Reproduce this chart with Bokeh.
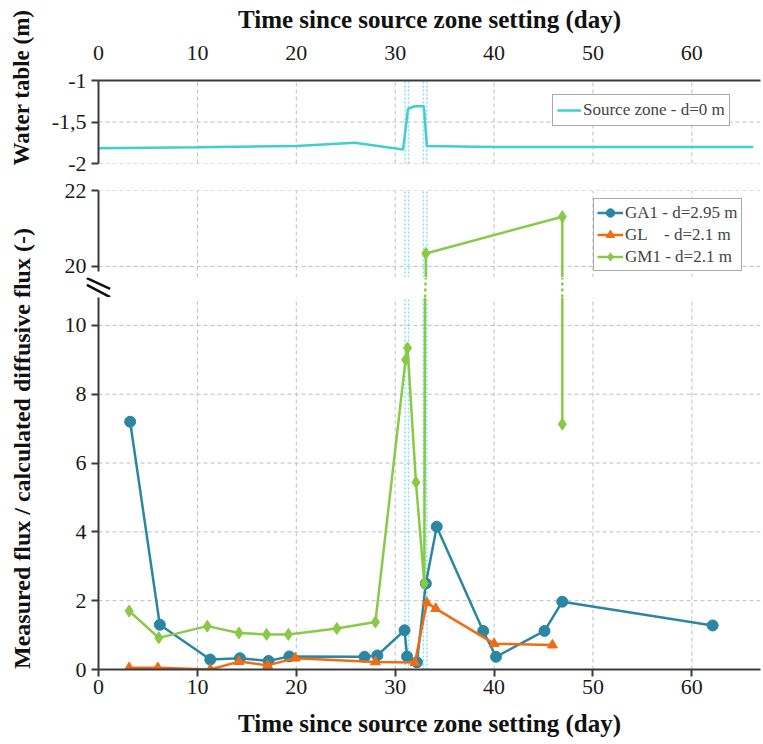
import math
from bokeh.plotting import figure
from bokeh.layouts import column, row
from bokeh.models import Range1d, FixedTicker, Label
from bokeh.embed import file_html
from bokeh.resources import INLINE

# ---------------- data ----------------
x_ticks = [0, 10, 20, 30, 40, 50, 60]
wt_ticks = [-2, -1.5, -1]
wt_tick_labels = ["-2", "-1,5", "-1"]
flux_hi_ticks = [20, 22]
flux_lo_ticks = [0, 2, 4, 6, 8, 10]

wt_day = [0, 10, 20, 25.9, 30.8, 31.3, 32.0, 32.9, 33.2, 40, 66.2]
wt_val = [-1.815, -1.805, -1.79, -1.75, -1.83, -1.34, -1.31, -1.31, -1.79, -1.80, -1.80]

ga1_day = [3.2, 6.2, 11.3, 14.3, 17.2, 19.3, 26.9, 28.2, 30.95, 31.2, 32.2, 33.1, 34.2, 38.9, 40.2, 45.1, 46.9, 62.1]
ga1_val = [7.2, 1.3, 0.29, 0.33, 0.25, 0.38, 0.37, 0.41, 1.14, 0.38, 0.21, 2.5, 4.15, 1.12, 0.37, 1.12, 1.97, 1.28]

gl_day = [3.1, 6.0, 11.3, 14.2, 17.1, 19.9, 28.0, 32.0, 33.2, 34.1, 40.0, 45.9]
gl_val = [0.05, 0.05, 0.0, 0.23, 0.12, 0.33, 0.22, 0.2, 1.94, 1.77, 0.75, 0.71]

gm1_day = [3.1, 6.1, 11.0, 14.2, 17.0, 19.2, 24.1, 28.0, 31.05, 31.25, 32.1, 32.95, 33.1, 46.9, 46.9]
gm1_val = [1.7, 0.92, 1.26, 1.06, 1.02, 1.02, 1.19, 1.38, 9.0, 9.34, 5.44, 2.5, 20.34, 21.31, 7.13]

event_days = [31.0, 31.35, 32.85, 33.2]

x_title = "Time since source zone setting (day)"
wt_title = "Water table (m)"
flux_title = "Measured flux / calculated diffusive  flux (-)"
wt_name = "Source zone - d=0 m"
series_names = ["GA1 - d=2.95 m", "GL    - d=2.1 m", "GM1 - d=2.1 m"]

# ---------------- layout / style constants ----------------
FONT = "Liberation Serif"
C_WT = "#3fcfcf"
C_GA1 = "#2b87a1"
C_GL = "#ef6c14"
C_GM1 = "#88c946"
C_EVT = "#86dcf2"
GRID = "#bdbdbd"
AXC = "#3a3a3a"
X1 = 66.94
PX_PER_DAY = 9.89
SIDE_W = 38
MAIN_W = 763 - SIDE_W
LEFT = 60                      # frame starts at page x = 98
TICK_FS = "22px"
HI_LO, HI_AX = 19.707, 19.87   # bottom of upper flux panel / end of its axis line
LO_TOP = 10.81                 # top of lower flux panel


def base(p, ylo, yhi, yticks_grid):
    p.outline_line_color = None
    p.background_fill_color = "white"
    p.border_fill_color = "white"
    p.xgrid.visible = False
    p.ygrid.visible = False
    for ax in p.axis:
        ax.axis_line_color = AXC
        ax.axis_line_width = 2
        ax.major_tick_line_color = AXC
        ax.major_tick_line_width = 2
        ax.major_tick_in = 0
        ax.major_tick_out = 7
        ax.minor_tick_line_color = None
        ax.major_label_text_font = FONT
        ax.major_label_text_font_size = TICK_FS
        ax.major_label_text_color = "#1a1a1a"
        ax.axis_label_text_font = FONT
        ax.axis_label_text_font_style = "bold"
        ax.axis_label_text_color = "#111111"
    p.yaxis.major_label_standoff = 5
    vx = [t for t in x_ticks if t > 0]
    p.segment(x0=vx, x1=vx, y0=[ylo] * len(vx), y1=[yhi] * len(vx),
              line_color=GRID, line_dash="4 3", line_width=1)
    p.segment(x0=[0] * len(yticks_grid), x1=[X1] * len(yticks_grid),
              y0=yticks_grid, y1=yticks_grid, line_color=GRID, line_dash="4 3", line_width=1)
    for d in event_days:
        p.segment(x0=[d], x1=[d], y0=[ylo], y1=[yhi], line_color=C_EVT,
                  line_width=1.5, line_dash="2 2")


# ---- side strip carrying the two vertical axis titles ----
side = figure(width=SIDE_W, height=744, x_range=Range1d(0, SIDE_W), y_range=Range1d(744, 0),
              output_backend="svg", toolbar_location=None, min_border=0)
side.axis.visible = False
side.grid.visible = False
side.outline_line_color = None
side.add_layout(Label(x=21, y=87, text=wt_title, angle=math.pi / 2,
                      text_align="center", text_baseline="middle", text_font=FONT,
                      text_font_size="23px", text_font_style="bold", text_color="#111111"))
side.add_layout(Label(x=21, y=445, text=flux_title, angle=math.pi / 2,
                      text_align="center", text_baseline="middle", text_font=FONT,
                      text_font_size="24px", text_font_style="bold", text_color="#111111"))

XR = Range1d(0, X1)

# ---- top panel: water table ----
p1 = figure(width=MAIN_W, height=177, x_range=XR, y_range=Range1d(-2, -1),
            x_axis_location="above", output_backend="svg", toolbar_location=None,
            min_border_left=LEFT, min_border_right=3, min_border_top=80, min_border_bottom=14)
base(p1, -2, -1, [-2, -1.5])
p1.xaxis.ticker = FixedTicker(ticks=x_ticks)
p1.xaxis.major_tick_out = 0
p1.xaxis.major_label_standoff = 21
p1.xaxis.axis_label = x_title
p1.xaxis.axis_label_text_font_size = "25px"
p1.xaxis.axis_label_standoff = 10
p1.yaxis.ticker = FixedTicker(ticks=wt_ticks)
p1.yaxis.major_label_overrides = {t: s for t, s in zip(wt_ticks, wt_tick_labels)}
p1.line(wt_day, wt_val, line_color=C_WT, line_width=2.5, legend_label=wt_name)
p1.legend.location = (454, 37)
p1.legend.label_text_font = FONT
p1.legend.label_text_font_size = "17px"
p1.legend.border_line_color = "#555555"
p1.legend.border_line_width = 1.5
p1.legend.padding = 4
p1.legend.margin = 0
p1.legend.glyph_width = 24
p1.legend.label_standoff = 2
p1.legend.label_height = 22
p1.legend.glyph_height = 22

# ---- middle panel: upper part of the broken axis ----
p2 = figure(width=MAIN_W, height=100, x_range=XR, y_range=Range1d(HI_LO, 22),
            output_backend="svg", toolbar_location=None,
            min_border_left=LEFT, min_border_right=3, min_border_top=13, min_border_bottom=0)
base(p2, HI_LO, 22, flux_hi_ticks)
p2.xaxis.visible = False
p2.yaxis.ticker = FixedTicker(ticks=flux_hi_ticks)
p2.yaxis.bounds = (HI_AX, 22)

# ---- thin strip for the axis-break symbol ----
GAP_H = 20
GAP_L = 14
gap = figure(width=MAIN_W, height=GAP_H, x_range=Range1d(-GAP_L / PX_PER_DAY, X1),
             y_range=Range1d(0, GAP_H), output_backend="svg", toolbar_location=None,
             min_border_left=LEFT - GAP_L, min_border_right=3, min_border_top=0, min_border_bottom=0)
gap.axis.visible = False
gap.grid.visible = False
gap.outline_line_color = None
gap.segment(x0=[-1.18, -1.18], x1=[1.18, 1.18], y0=[19.3, 12.7], y1=[8.7, 0.3],
            line_color="#111111", line_width=2.5)
# dotted continuation of GM1 where it crosses the break
for i in range(len(gm1_day) - 1):
    ya, yb = gm1_val[i], gm1_val[i + 1]
    if (ya < LO_TOP) != (yb < LO_TOP):
        xa, xb = gm1_day[i], gm1_day[i + 1]
        xc0 = xa + (xb - xa) * (LO_TOP - ya) / (yb - ya)
        xc1 = xa + (xb - xa) * (HI_LO - ya) / (yb - ya)
        gap.segment(x0=[xc0], x1=[xc1], y0=[0], y1=[GAP_H], line_color=C_GM1,
                    line_width=2.5, line_dash="3 3")

# ---- bottom panel ----
p3 = figure(width=MAIN_W, height=447, x_range=XR, y_range=Range1d(0, LO_TOP),
            output_backend="svg", toolbar_location=None,
            min_border_left=LEFT, min_border_right=3, min_border_top=0, min_border_bottom=75)
base(p3, 0, LO_TOP, flux_lo_ticks[1:])
p3.xaxis.ticker = FixedTicker(ticks=x_ticks)
p3.xaxis.major_label_standoff = 3
p3.xaxis.axis_label = x_title
p3.xaxis.axis_label_text_font_size = "25px"
p3.xaxis.axis_label_standoff = 13
p3.yaxis.ticker = FixedTicker(ticks=flux_lo_ticks)

series = [
    (ga1_day, ga1_val, C_GA1, "circle", 11),
    (gl_day, gl_val, C_GL, "triangle", 10),
    (gm1_day, gm1_val, C_GM1, "diamond", 12),
]
for (xd, yd, c, mk, sz), name in zip(series, series_names):
    p2.line(xd, yd, line_color=c, line_width=2.5, legend_label=name)
    p2.scatter(xd, yd, marker=mk, size=sz, fill_color=c, line_color=c, legend_label=name)
    p3.line(xd, yd, line_color=c, line_width=2.5)
    p3.scatter(xd, yd, marker=mk, size=sz, fill_color=c, line_color=c)

p2.legend.location = (495, 6)
p2.legend.label_text_font = FONT
p2.legend.label_text_font_size = "17px"
p2.legend.border_line_color = "#555555"
p2.legend.border_line_width = 1.5
p2.legend.padding = 3
p2.legend.spacing = 1
p2.legend.margin = 0
p2.legend.glyph_width = 26
p2.legend.label_standoff = 2
p2.legend.label_height = 21
p2.legend.glyph_height = 21

layout = row(side, column(p1, p2, row(gap), p3, spacing=0), spacing=0)
open("out.html", "w").write(file_html(layout, INLINE))
